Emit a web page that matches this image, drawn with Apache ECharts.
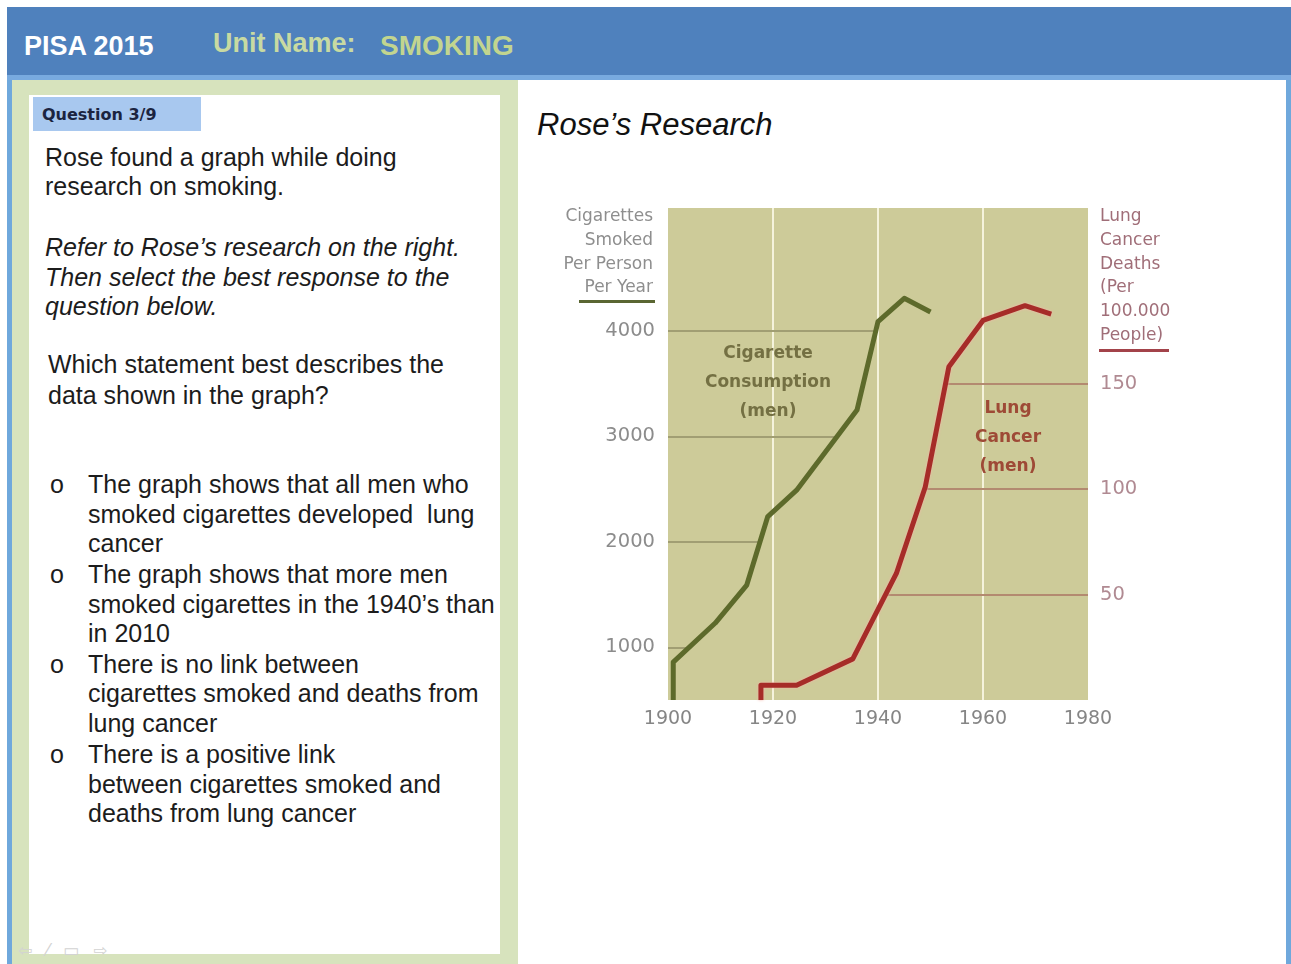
<!DOCTYPE html>
<html>
<head>
<meta charset="utf-8">
<script src="https://cdn.jsdelivr.net/npm/echarts@6/dist/echarts.min.js"></script>
<style>
  html, body { margin: 0; padding: 0; }
  body { width: 1291px; height: 964px; position: relative; overflow: hidden; background: #fff;
         font-family: "Liberation Sans", Arial, sans-serif; }
  .abs { position: absolute; }
  .ln { position: absolute; height: 30px; line-height: 30px; font-size: 25px; color: #1c1c1c; white-space: pre; }
  .it { font-style: italic; }
  #chart { position: absolute; left: 0; top: 0; width: 1291px; height: 964px; }
</style>
</head>
<body>
  <!-- slide frame -->
  <div class="abs" style="left:7px;top:7px;width:1284px;height:69px;background:#4f81bd"></div>
  <div class="abs" style="left:7px;top:75px;width:1284px;height:5px;background:#78aadf"></div>
  <div class="abs" style="left:7px;top:80px;width:5px;height:884px;background:#6fa8dc"></div>
  <div class="abs" style="left:1286px;top:80px;width:5px;height:884px;background:#6fa8dc"></div>
  <div class="abs" style="left:12px;top:80px;width:506px;height:884px;background:#d7e3bd"></div>
  <div class="abs" style="left:29px;top:95px;width:471px;height:859px;background:#fff"></div>

  <!-- header -->
  <div class="abs" style="left:24px;top:27px;font:bold 27px 'Liberation Sans',Arial;color:#fff;line-height:38px">PISA 2015</div>
  <div class="abs" style="left:213px;top:24px;font:bold 27px 'Liberation Sans',Arial;color:#c8daa2;line-height:38px">Unit Name:</div>
  <div class="abs" style="left:380px;top:27px;font:bold 28px 'Liberation Sans',Arial;color:#c2d58f;line-height:38px">SMOKING</div>

  <!-- question panel -->
  <div class="abs" style="left:33px;top:97px;width:168px;height:34px;background:#a8c8ef"></div>
  <div class="abs" style="left:42px;top:101px;font:bold 16px 'DejaVu Sans';color:#1b2440;line-height:28px">Question 3/9</div>

  <div class="ln" style="left:45px;top:142px">Rose found a graph while doing</div>
  <div class="ln" style="left:45px;top:171px">research on smoking.</div>
  <div class="ln it" style="left:45px;top:232px">Refer to Rose’s research on the right.</div>
  <div class="ln it" style="left:45px;top:262px">Then select the best response to the</div>
  <div class="ln it" style="left:45px;top:291px">question below.</div>
  <div class="ln" style="left:48px;top:349px">Which statement best describes the</div>
  <div class="ln" style="left:48px;top:380px">data shown in the graph?</div>

  <div class="ln" style="left:50px;top:469px">o</div>
  <div class="ln" style="left:88px;top:469px">The graph shows that all men who</div>
  <div class="ln" style="left:88px;top:499px">smoked cigarettes developed  lung</div>
  <div class="ln" style="left:88px;top:528px">cancer</div>
  <div class="ln" style="left:50px;top:559px">o</div>
  <div class="ln" style="left:88px;top:559px">The graph shows that more men</div>
  <div class="ln" style="left:88px;top:589px">smoked cigarettes in the 1940’s than</div>
  <div class="ln" style="left:88px;top:618px">in 2010</div>
  <div class="ln" style="left:50px;top:649px">o</div>
  <div class="ln" style="left:88px;top:649px">There is no link between</div>
  <div class="ln" style="left:88px;top:678px">cigarettes smoked and deaths from</div>
  <div class="ln" style="left:88px;top:708px">lung cancer</div>
  <div class="ln" style="left:50px;top:739px">o</div>
  <div class="ln" style="left:88px;top:739px">There is a positive link</div>
  <div class="ln" style="left:88px;top:769px">between cigarettes smoked and</div>
  <div class="ln" style="left:88px;top:798px">deaths from lung cancer</div>

  <!-- faint slide navigation glyphs -->
  <div class="abs" style="left:18px;top:940px;font:17px 'DejaVu Sans';color:#d3d3d3;letter-spacing:14px">⇦⁄▭⇨</div>

  <!-- right panel title -->
  <div class="abs" style="left:537px;top:106px;font:italic 31px 'Liberation Sans',Arial;color:#111;line-height:38px">Rose’s Research</div>

  <div id="chart"></div>

<script>
// Cigarettes smoked per person per year (men)
const smokingYears = [1901, 1901, 1909, 1915, 1919, 1924.5, 1936, 1940, 1945, 1950];
const cigarettes   = [500, 860, 1230, 1590, 2240, 2490, 3250, 4090, 4310, 4180];

// Lung cancer deaths per 100,000 people (men)
const cancerYears  = [1917.7, 1917.7, 1924.5, 1935.2, 1943.5, 1949, 1953.5, 1960, 1968, 1973];
const cancerDeaths = [0, 7, 7, 19.5, 60, 101, 158, 180, 187, 183];

// Axis ticks
const yearTicks  = [1900, 1920, 1940, 1960, 1980];
const leftTicks  = [1000, 2000, 3000, 4000];
const rightTicks = [50, 100, 150];

// Axis ranges (left = 500 + 20 * right keeps both scales aligned)
const leftMin = 500, leftMax = 5166.67;
const rightMin = 0, rightMax = 233.33;

function pairs(xs, ys) { return xs.map((x, i) => [x, ys[i]]); }

// year where a polyline first reaches a given level
function crossAt(xs, ys, level) {
  for (let i = 0; i < xs.length - 1; i++) {
    const a = ys[i], b = ys[i + 1];
    if (a !== b && (level - a) * (level - b) <= 0) {
      return xs[i] + (level - a) / (b - a) * (xs[i + 1] - xs[i]);
    }
  }
  return null;
}

const chart = echarts.init(document.getElementById('chart'), null, { renderer: 'canvas' });

chart.setOption({
  animation: false,
  grid: {
    left: 668, top: 208, width: 420, height: 492,
    show: true, backgroundColor: '#cdcb99', borderWidth: 0
  },
  xAxis: {
    type: 'value', min: yearTicks[0], max: yearTicks[yearTicks.length - 1], interval: 20,
    axisLine: { show: false }, axisTick: { show: false },
    axisLabel: { color: '#858585', margin: 10, fontSize: 19, fontFamily: 'DejaVu Sans',
                 formatter: v => String(v) },
    splitLine: { show: true, showMinLine: false, showMaxLine: false,
                 lineStyle: { color: '#f5f3dc', width: 2 } }
  },
  yAxis: [
    {
      type: 'value', min: leftMin, max: leftMax, interval: 500,
      axisLine: { show: false }, axisTick: { show: false }, splitLine: { show: false },
      axisLabel: { color: '#8c8c8c', margin: 13, fontSize: 19.5, fontFamily: 'DejaVu Sans',
        formatter: v => leftTicks.includes(v) ? String(v) : '' }
    },
    {
      type: 'value', min: rightMin, max: rightMax, interval: 50, position: 'right',
      axisLine: { show: false }, axisTick: { show: false }, splitLine: { show: false },
      axisLabel: { color: '#b08a92', margin: 12, fontSize: 19.5, fontFamily: 'DejaVu Sans',
        formatter: v => rightTicks.includes(v) ? String(v) : '' }
    }
  ],
  series: [
    {
      name: 'Cigarette Consumption (men)', type: 'line', yAxisIndex: 0,
      data: pairs(smokingYears, cigarettes), symbol: 'none', clip: false, z: 4,
      lineStyle: { color: '#5d6a2b', width: 5, join: 'round' },
      markLine: {
        silent: true, symbol: ['none', 'none'], z: 1, label: { show: false },
        lineStyle: { color: '#a19e73', width: 2, type: 'solid' },
        data: leftTicks.map(v => [{ coord: [yearTicks[0], v] },
                                  { coord: [crossAt(smokingYears, cigarettes, v), v] }])
      }
    },
    {
      name: 'Lung Cancer (men)', type: 'line', yAxisIndex: 1,
      data: pairs(cancerYears, cancerDeaths), symbol: 'none', clip: false, z: 4,
      lineStyle: { color: '#a62c28', width: 5, join: 'round',
                   shadowColor: 'rgba(245,180,170,0.95)', shadowBlur: 3 },
      markLine: {
        silent: true, symbol: ['none', 'none'], z: 1, label: { show: false },
        lineStyle: { color: '#b38a70', width: 2, type: 'solid' },
        data: rightTicks.map(v => [{ coord: [crossAt(cancerYears, cancerDeaths, v), v] },
                                   { coord: [yearTicks[yearTicks.length - 1], v] }])
      }
    }
  ],
  graphic: [
    // left axis title + key bar
    { type: 'text', x: 653, y: 205, z: 10,
      style: { text: 'Cigarettes\nSmoked\nPer Person\nPer Year', align: 'right', verticalAlign: 'top',
               lineHeight: 23.7, font: '17px "DejaVu Sans"', fill: '#8e8e8e' } },
    { type: 'rect', shape: { x: 579, y: 300, width: 76, height: 3 }, z: 10,
      style: { fill: '#5a6632' } },
    // right axis title + key bar
    { type: 'text', x: 1100, y: 205, z: 10,
      style: { text: 'Lung\nCancer\nDeaths\n(Per\n100.000\nPeople)', align: 'left', verticalAlign: 'top',
               lineHeight: 23.7, font: '17px "DejaVu Sans"', fill: '#a06e78' } },
    { type: 'rect', shape: { x: 1099, y: 349, width: 70, height: 3 }, z: 10,
      style: { fill: '#a3434a' } },
    // in-plot series labels
    { type: 'text', x: 768, y: 383, z: 10,
      style: { text: 'Cigarette\nConsumption\n(men)', align: 'center', verticalAlign: 'middle',
               lineHeight: 29, font: 'bold 17px "DejaVu Sans"', fill: '#747043' } },
    { type: 'text', x: 1008, y: 438, z: 10,
      style: { text: 'Lung\nCancer\n(men)', align: 'center', verticalAlign: 'middle',
               lineHeight: 29, font: 'bold 17px "DejaVu Sans"', fill: '#9e4a36' } }
  ]
});
</script>
</body>
</html>
